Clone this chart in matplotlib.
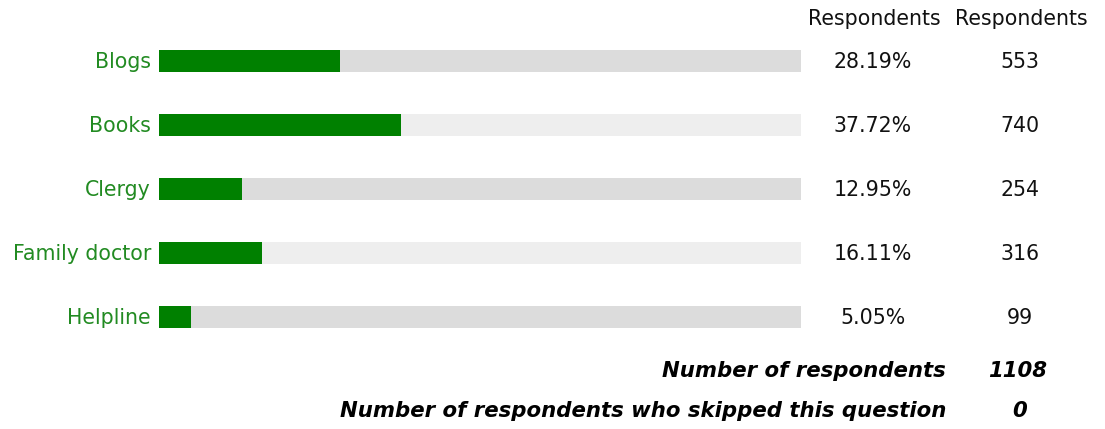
import matplotlib
matplotlib.use("Agg")
import matplotlib.pyplot as plt
from matplotlib.transforms import Affine2D

categories = ["Blogs", "Books", "Clergy", "Family doctor", "Helpline"]
percents = [28.19, 37.72, 12.95, 16.11, 5.05]
counts = [553, 740, 254, 316, 99]
headers = ["Respondents", "Respondents"]
total_label = "Number of respondents"
total_value = 1108
skipped_label = "Number of respondents who skipped this question"
skipped_value = 0

W, H = 1105, 429
fig = plt.figure(figsize=(W / 100, H / 100), dpi=100)
plt.rcParams['font.family'] = ['DejaVu Sans']

# pixel transform (origin top-left)
px = Affine2D().scale(1.0 / W, -1.0 / H).translate(0, 1) + fig.transFigure

row_h = 64
top = 29
ax = fig.add_axes([159 / W, 1 - (top + row_h * len(categories)) / H, (801 - 159) / W, row_h * len(categories) / H])
ax.set_xlim(0, 100)
ax.set_ylim(len(categories) - 0.5, -0.5)
ax.axis("off")

track_colors = ["#dcdcdc", "#eeeeee"]
y = list(range(len(categories)))
bh = 22 / row_h
ax.barh(y, [100] * len(categories), height=bh, color=[track_colors[i % 2] for i in y], linewidth=0)
ax.barh(y, percents, height=bh, color="#008000", linewidth=0)

fs = 14.8
ffs = 15.3
for i, (c, p, n) in enumerate(zip(categories, percents, counts)):
    yc = top + row_h * i + row_h / 2 + 1
    fig.text(151, yc, c, transform=px, ha="right", va="center", color="#228b22", fontsize=fs)
    fig.text(873, yc, f"{p:.2f}%", transform=px, ha="center", va="center", color="#111111", fontsize=fs)
    fig.text(1020, yc, f"{n}", transform=px, ha="center", va="center", color="#111111", fontsize=fs)

fig.text(874, 19, headers[0], transform=px, ha="center", va="center", color="#111111", fontsize=fs)
fig.text(1021, 19, headers[1], transform=px, ha="center", va="center", color="#111111", fontsize=fs)

fig.text(946, 371, total_label, transform=px, ha="right", va="center", fontsize=ffs, fontweight="heavy", fontstyle="italic", color="black")
fig.text(1018, 371, f"{total_value}", transform=px, ha="center", va="center", fontsize=ffs, fontweight="heavy", fontstyle="italic", color="black")
fig.text(946, 411, skipped_label, transform=px, ha="right", va="center", fontsize=ffs, fontweight="heavy", fontstyle="italic", color="black")
fig.text(1020, 411, f"{skipped_value}", transform=px, ha="center", va="center", fontsize=ffs, fontweight="heavy", fontstyle="italic", color="black")

fig.savefig("out.png", dpi=100)
